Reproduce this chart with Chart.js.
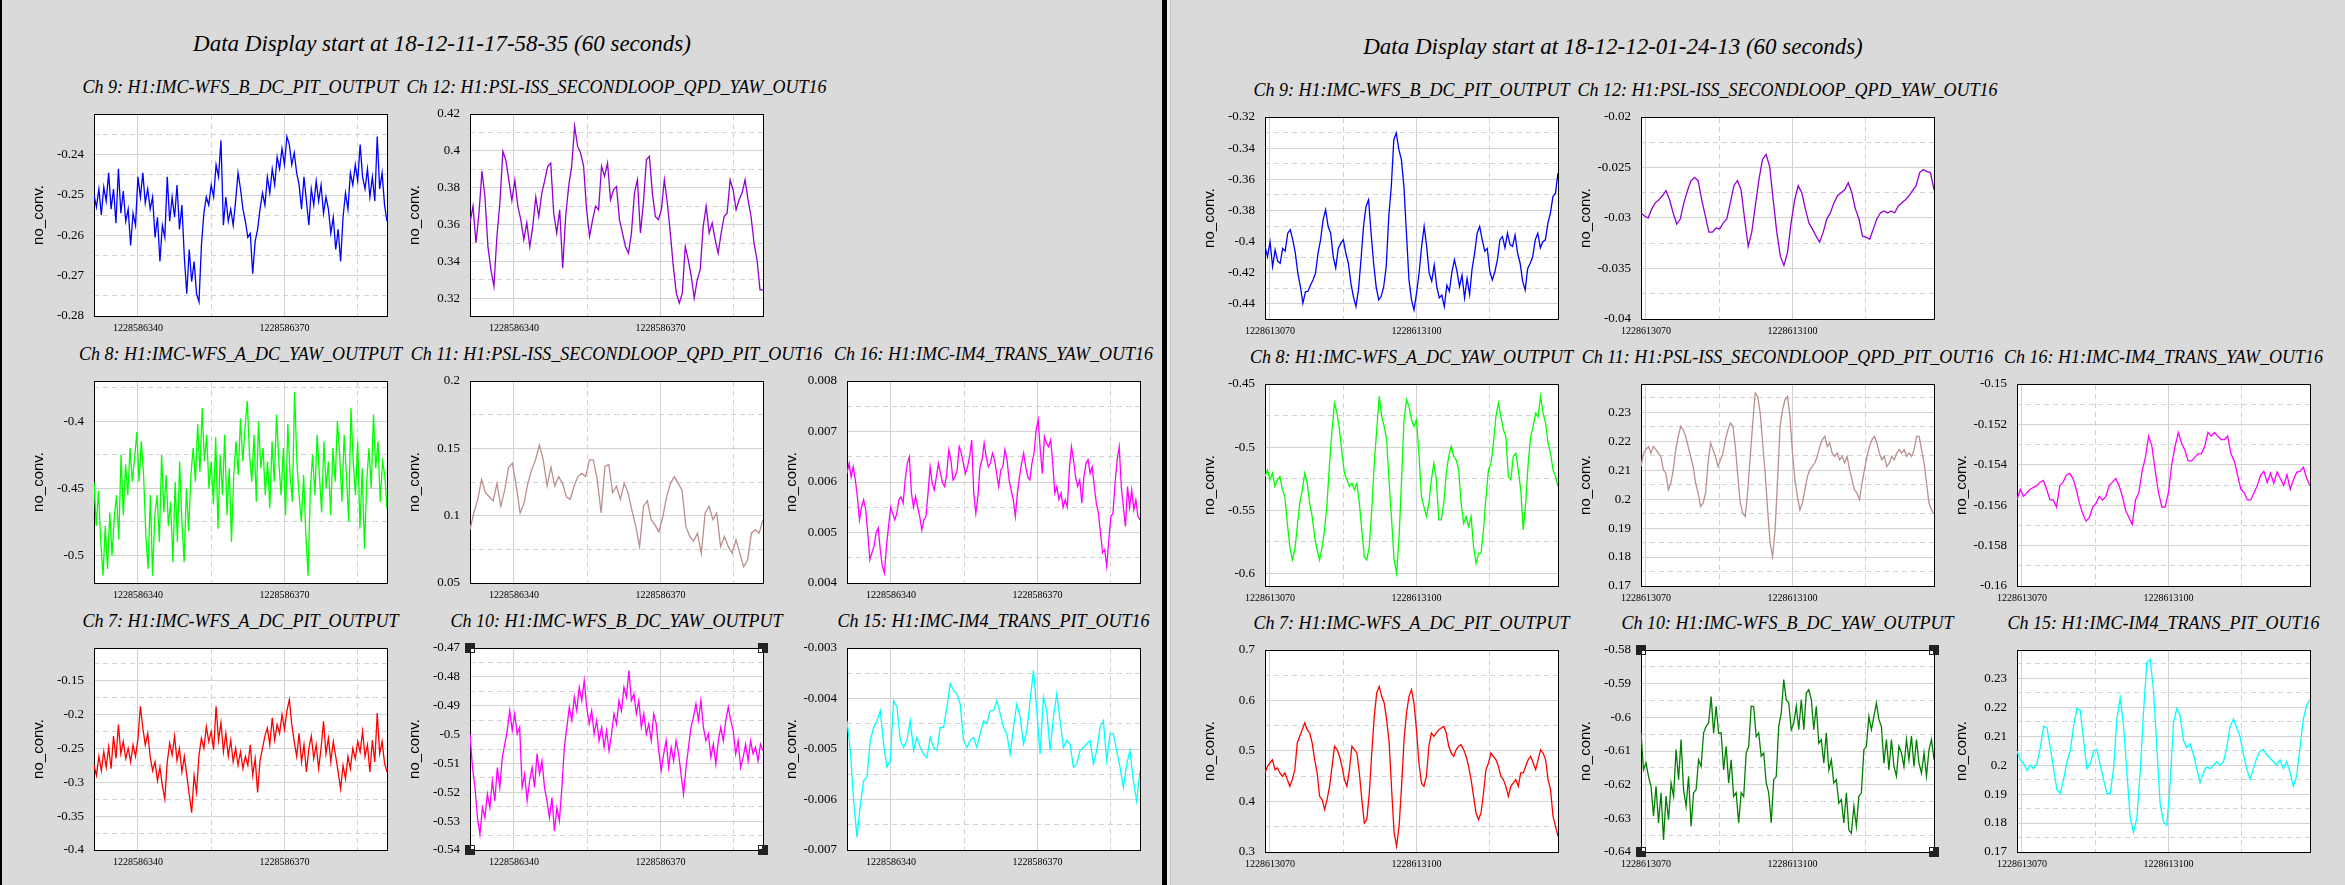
<!DOCTYPE html>
<html>
<head>
<meta charset="utf-8">
<script src="https://cdn.jsdelivr.net/npm/chart.js@4.4.0/dist/chart.umd.min.js"></script>
<style>
  body { margin: 0; width: 2345px; height: 885px; overflow: hidden; position: relative; background: #dadada; font-family: "Liberation Serif", "Times New Roman", serif; }
  canvas { position: absolute; }
  .panel-title { position: absolute; font-style: italic; font-size: 23px; white-space: nowrap; transform: translate(-50%, -50%); color: #000; }
  .plot-title { position: absolute; font-style: italic; font-size: 18px; white-space: nowrap; transform: translate(-50%, -50%); color: #000; }
  .bar { position: absolute; top: 0; height: 885px; }
</style>
</head>
<body>
<div class="bar" style="left:0;width:2px;background:#000"></div>
<div class="bar" style="left:1162px;width:5px;background:#000"></div>
<div class="bar" style="left:1167px;width:3px;background:#eeeeee"></div>
<div class="bar" style="left:1170px;width:1px;background:#c4c4c4"></div>
<script>
// ---- data -------------------------------------------------------------
const leftStart = 1228586331;
const rightStart = 1228613069;
const duration = 60;
const leftTitle = 'Data Display start at 18-12-11-17-58-35 (60 seconds)';
const rightTitle = 'Data Display start at 18-12-12-01-24-13 (60 seconds)';
const leftXTicks = [1228586340, 1228586370];
const rightXTicks = [1228613070, 1228613100];

const leftCh9 = [-0.250,-0.253,-0.2485,-0.255,-0.248,-0.2515,-0.2445,-0.2535,-0.2485,-0.257,
  -0.2435,-0.2545,-0.249,-0.2565,-0.2535,-0.2625,-0.2545,-0.2575,-0.2455,-0.2505,
  -0.2445,-0.252,-0.2485,-0.2535,-0.2505,-0.2605,-0.2555,-0.2665,-0.2575,-0.2605,
  -0.2455,-0.2565,-0.2505,-0.2555,-0.2475,-0.2585,-0.2525,-0.2655,-0.2745,-0.2635,
  -0.2715,-0.2665,-0.2745,-0.2765,-0.2625,-0.2545,-0.2505,-0.2525,-0.2475,-0.2505,
  -0.2425,-0.2455,-0.2365,-0.2575,-0.2505,-0.2565,-0.2535,-0.2575,-0.2515,-0.2445,
  -0.2485,-0.2535,-0.2565,-0.2605,-0.2595,-0.2695,-0.2615,-0.2585,-0.2535,-0.2495,
  -0.2525,-0.2455,-0.2495,-0.2435,-0.2475,-0.2405,-0.2435,-0.2385,-0.2425,-0.2355,
  -0.2375,-0.2425,-0.2395,-0.2445,-0.2475,-0.2535,-0.2455,-0.2515,-0.2575,-0.2485,
  -0.2525,-0.2465,-0.2515,-0.2475,-0.2545,-0.2505,-0.2535,-0.2595,-0.2555,-0.2635,
  -0.2585,-0.2665,-0.2555,-0.2495,-0.2535,-0.2445,-0.2475,-0.2425,-0.2465,-0.2375,
  -0.2455,-0.2485,-0.2435,-0.2505,-0.2455,-0.2515,-0.2355,-0.2485,-0.2445,-0.2525,
  -0.2565];
const leftCh9Ticks = [-0.28, -0.27, -0.26, -0.25, -0.24];

const leftCh12 = [0.361,0.370,0.350,0.366,0.389,0.375,0.348,0.3355,0.3265,0.3535,
  0.3717,0.3997,0.395,0.384,0.373,0.384,0.370,0.3626,0.3518,0.361,
  0.348,0.359,0.375,0.3644,0.377,0.384,0.3916,0.3934,0.366,0.3554,
  0.368,0.3364,0.3644,0.3807,0.3916,0.4133,0.4024,0.3988,0.3916,0.368,
  0.3536,0.3626,0.370,0.368,0.3916,0.3862,0.3934,0.3735,0.3789,0.3807,
  0.3626,0.3554,0.3481,0.3445,0.3554,0.3771,0.3843,0.3554,0.3717,0.3952,
  0.397,0.3771,0.3644,0.3626,0.368,0.3843,0.3717,0.3554,0.3373,0.3228,
  0.3174,0.3228,0.3481,0.3409,0.3319,0.3201,0.330,0.3355,0.359,0.3699,
  0.3554,0.3608,0.3518,0.3445,0.3554,0.3644,0.3662,0.3843,0.3789,0.368,
  0.3735,0.3771,0.3843,0.3735,0.3644,0.350,0.3409,0.3246,0.3246];
const leftCh12Ticks = [0.32, 0.34, 0.36, 0.38, 0.4, 0.42];

const leftCh8 = [-0.445,-0.478,-0.452,-0.49,
  -0.515,-0.478,-0.51,-0.468,-0.50,-0.472,
  -0.455,-0.488,-0.425,-0.47,-0.432,-0.455,-0.42,-0.445,
  -0.428,-0.408,-0.445,-0.415,-0.44,
  -0.485,-0.51,-0.455,-0.515,-0.47,
  -0.455,-0.49,-0.425,-0.468,-0.44,-0.478,
  -0.46,-0.505,-0.445,-0.49,-0.43,-0.475,-0.505,-0.45,-0.482,-0.44,
  -0.42,-0.445,-0.402,-0.438,-0.39,-0.43,-0.41,-0.45,
  -0.43,-0.462,-0.412,-0.48,-0.425,-0.455,-0.41,-0.47,-0.435,-0.49,-0.44,
  -0.415,-0.44,-0.398,-0.43,-0.405,-0.385,-0.425,-0.445,-0.41,-0.46,-0.40,-0.435,-0.42,-0.455,
  -0.43,-0.465,-0.415,-0.445,-0.395,-0.43,-0.455,-0.42,-0.47,-0.402,-0.44,-0.46,-0.378,-0.43,
  -0.455,-0.475,-0.44,-0.485,-0.515,-0.45,
  -0.425,-0.455,-0.41,-0.44,-0.468,-0.415,-0.45,-0.43,-0.47,-0.42,-0.445,-0.40,
  -0.425,-0.46,-0.41,-0.44,-0.475,-0.39,-0.43,-0.455,-0.415,-0.48,-0.435,-0.495,-0.445,
  -0.42,-0.45,-0.395,-0.435,-0.415,-0.46,-0.43,-0.44,-0.465];
const leftCh8Ticks = [-0.5, -0.45, -0.4];

const leftCh11 = [0.0896,0.102,0.112,0.127,0.117,0.114,0.111,0.124,0.107,0.119,
  0.136,0.139,0.122,0.102,0.109,0.124,0.134,0.1415,0.1525,0.1415,
  0.122,0.136,0.122,0.129,0.124,0.114,0.112,0.122,0.129,0.1315,
  0.129,0.1415,0.1415,0.127,0.102,
  0.1365,0.138,0.117,0.122,0.112,0.124,0.117,0.104,0.092,0.077,
  0.107,0.111,0.097,0.093,0.088,0.099,0.114,0.124,0.129,0.124,
  0.119,0.092,0.0846,0.081,0.087,0.072,0.102,0.107,0.097,0.102,
  0.077,0.0846,0.077,0.072,0.082,0.072,0.062,0.067,0.087,0.0896,
  0.087,0.097];
const leftCh11Ticks = [0.05, 0.1, 0.15, 0.2];

const leftCh16 = [0.00617,0.00637,0.0061,0.0063,0.00604,0.00571,0.00525,0.0055,0.00565,0.00545,
  0.00499,0.00446,0.0046,0.00473,0.00499,0.00509,0.00466,0.00433,0.0042,0.00473,
  0.00512,0.0055,0.00538,0.00525,0.00538,0.00565,0.00571,0.00558,0.00604,0.00637,
  0.0065,0.00578,0.0055,0.00571,0.0055,0.00532,0.00505,0.00525,0.00532,0.00578,
  0.0063,0.00598,0.00584,0.0061,0.00637,0.00617,0.00598,0.00591,0.00617,0.00664,
  0.00644,0.00604,0.0061,0.00624,0.0067,0.00657,0.00637,0.00617,0.0063,0.0065,
  0.00683,0.00578,0.00538,0.00571,0.0063,0.00644,0.00677,0.0065,0.0063,0.00637,
  0.00657,0.00644,0.00617,0.00591,0.00624,0.0063,0.00664,0.00644,0.00604,0.00584,
  0.00565,0.00532,0.00578,0.0061,0.00637,0.00657,0.0063,0.0061,0.00604,0.00637,
  0.00657,0.00703,0.00723,0.00664,0.00617,0.0069,0.00677,0.0067,0.00683,0.00637,
  0.00578,0.00591,0.00565,0.00578,0.0055,0.00565,0.0055,0.00624,0.0067,0.00644,
  0.0061,0.00591,0.00604,0.00558,0.0061,0.00637,0.00644,0.00617,0.0063,0.00591,
  0.00558,0.00538,0.00499,0.0046,0.00466,0.00433,0.00486,0.00532,0.00538,0.00598,
  0.00644,0.0067,0.00591,0.0055,0.00512,0.00591,0.0055,0.00584,0.00545,0.00565,
  0.00532,0.00525];
const leftCh16Ticks = [0.004, 0.005, 0.006, 0.007, 0.008];

const leftCh7 = [-0.275,-0.29,-0.262,-0.283,-0.255,-0.278,-0.248,-0.28,-0.232,-0.265,
  -0.215,-0.258,-0.24,-0.265,-0.25,-0.27,-0.245,-0.262,-0.236,-0.188,
  -0.22,-0.245,-0.228,-0.262,-0.283,-0.27,-0.298,-0.278,-0.305,-0.325,
  -0.27,-0.242,-0.26,-0.232,-0.268,-0.25,-0.285,-0.262,-0.29,-0.318,
  -0.345,-0.29,-0.315,-0.26,-0.235,-0.25,-0.218,-0.24,-0.225,-0.252,
  -0.188,-0.238,-0.212,-0.255,-0.228,-0.262,-0.238,-0.27,-0.25,-0.275,
  -0.255,-0.28,-0.262,-0.275,-0.245,-0.29,-0.265,-0.315,-0.268,-0.25,
  -0.232,-0.22,-0.245,-0.205,-0.238,-0.215,-0.228,-0.20,-0.222,-0.195,
  -0.178,-0.215,-0.24,-0.262,-0.228,-0.27,-0.245,-0.285,-0.25,-0.232,
  -0.265,-0.245,-0.28,-0.25,-0.21,-0.258,-0.235,-0.27,-0.24,-0.262,
  -0.285,-0.31,-0.275,-0.295,-0.262,-0.28,-0.25,-0.265,-0.24,-0.255,
  -0.225,-0.262,-0.245,-0.285,-0.238,-0.27,-0.198,-0.258,-0.24,-0.272,
  -0.285];
const leftCh7Ticks = [-0.4, -0.35, -0.3, -0.25, -0.2, -0.15];

const leftCh10 = [-0.4998,-0.5114,-0.5183,-0.5288,-0.5346,-0.5253,-0.5288,-0.5206,-0.5253,-0.516,
  -0.523,-0.5114,-0.5183,-0.5079,-0.5033,-0.4986,-0.4917,-0.4986,-0.4928,-0.4998,
  -0.4975,-0.5183,-0.5137,-0.523,-0.516,-0.5114,-0.5183,-0.5067,-0.5137,-0.5091,
  -0.5183,-0.523,-0.5288,-0.5218,-0.5334,-0.5253,-0.5299,-0.5183,-0.5044,-0.4975,
  -0.4905,-0.4951,-0.487,-0.4917,-0.4836,-0.4882,-0.4813,-0.4905,-0.4963,-0.4917,
  -0.4998,-0.4951,-0.5021,-0.4975,-0.5044,-0.4986,-0.5056,-0.4998,-0.4928,-0.4963,
  -0.4882,-0.4917,-0.4836,-0.487,-0.4778,-0.4882,-0.4859,-0.4928,-0.4882,-0.4975,
  -0.4928,-0.4998,-0.4963,-0.5021,-0.4928,-0.4963,-0.5056,-0.5125,-0.5067,-0.5021,
  -0.5114,-0.5044,-0.5091,-0.5021,-0.5067,-0.5137,-0.5206,-0.5114,-0.5044,-0.4975,
  -0.494,-0.4894,-0.4951,-0.4882,-0.4975,-0.5021,-0.4998,-0.5079,-0.5033,-0.5102,
  -0.5021,-0.4975,-0.5021,-0.4951,-0.4905,-0.4951,-0.4986,-0.5067,-0.5021,-0.5114,
  -0.5079,-0.5033,-0.5091,-0.5021,-0.5067,-0.5044,-0.5091,-0.5033,-0.5056];
const leftCh10Ticks = [-0.54, -0.53, -0.52, -0.51, -0.5, -0.49, -0.48, -0.47];

const leftCh15 = [-0.00444,-0.00503,-0.00603,-0.00675,-0.0061,-0.00563,-0.00556,-0.00483,-0.00457,-0.00444,
  -0.00424,-0.0049,-0.00536,-0.00523,-0.00404,-0.00417,-0.00483,-0.00497,-0.00483,-0.00444,
  -0.00503,-0.00477,-0.00497,-0.0051,-0.00517,-0.00477,-0.00497,-0.00503,-0.00457,-0.00457,
  -0.00417,-0.00371,-0.00384,-0.00391,-0.00411,-0.00483,-0.00497,-0.00483,-0.00477,-0.00497,
  -0.0047,-0.00444,-0.0045,-0.00424,-0.00424,-0.00404,-0.0043,-0.00457,-0.0047,-0.0051,
  -0.00457,-0.00411,-0.00437,-0.0049,-0.00464,-0.00404,-0.00344,-0.00424,-0.0051,-0.00397,
  -0.00424,-0.00503,-0.00437,-0.00391,-0.00444,-0.00497,-0.00483,-0.0049,-0.00536,-0.0053,
  -0.00503,-0.00497,-0.0049,-0.00483,-0.0053,-0.00503,-0.00457,-0.00444,-0.00523,-0.0047,
  -0.0047,-0.00503,-0.00536,-0.00576,-0.0053,-0.00503,-0.00563,-0.00603,-0.00543];
const leftCh15Ticks = [-0.007, -0.006, -0.005, -0.004, -0.003];

const rightCh9 = [-0.4031,-0.4096,-0.4001,-0.416,-0.4053,-0.4126,-0.4139,-0.4044,-0.4061,-0.3946,
  -0.3924,-0.3989,-0.4074,-0.4203,-0.4289,-0.4396,-0.4323,-0.4319,-0.428,-0.4246,
  -0.4203,-0.4074,-0.3989,-0.386,-0.3796,-0.3903,-0.3946,-0.4096,-0.4169,-0.4044,
  -0.401,-0.3989,-0.4074,-0.4139,-0.4267,-0.4353,-0.4417,-0.431,-0.4117,-0.3903,
  -0.3774,-0.3731,-0.3946,-0.4139,-0.4289,-0.4374,-0.4353,-0.4289,-0.416,-0.3839,
  -0.3646,-0.3346,-0.3303,-0.341,-0.3474,-0.3646,-0.3946,-0.4246,-0.4374,-0.4439,
  -0.4331,-0.4203,-0.4031,-0.3903,-0.4031,-0.4203,-0.4254,-0.4151,-0.4289,-0.4361,
  -0.4344,-0.4417,-0.428,-0.4319,-0.4194,-0.4117,-0.419,-0.4289,-0.4216,-0.4361,
  -0.4237,-0.434,-0.4173,-0.4074,-0.3946,-0.3903,-0.3989,-0.4061,-0.4044,-0.419,
  -0.4246,-0.4194,-0.4117,-0.3989,-0.3967,-0.404,-0.3946,-0.4019,-0.4031,-0.3959,
  -0.4074,-0.4139,-0.4254,-0.431,-0.4173,-0.4139,-0.4096,-0.3989,-0.3946,-0.404,
  -0.4001,-0.3989,-0.3881,-0.3817,-0.371,-0.3689,-0.356];
const rightCh9Ticks = [-0.44, -0.42, -0.4, -0.38, -0.36, -0.34, -0.32];

const rightCh12 = [-0.0295,-0.0298,-0.03,-0.0291,-0.0285,-0.0282,-0.0278,-0.0273,-0.0282,-0.0295,
  -0.0306,-0.0301,-0.0285,-0.0273,-0.0263,-0.026,-0.0263,-0.0282,-0.0298,-0.0314,
  -0.0314,-0.031,-0.0311,-0.0305,-0.0301,-0.0285,-0.0268,-0.0263,-0.0272,-0.0301,
  -0.0328,-0.0314,-0.0288,-0.0262,-0.0242,-0.0237,-0.0249,-0.0282,-0.0314,-0.0338,
  -0.0347,-0.0334,-0.0305,-0.0282,-0.0268,-0.0275,-0.0291,-0.0305,-0.0311,-0.0318,
  -0.0324,-0.0314,-0.0301,-0.0295,-0.0285,-0.0278,-0.0275,-0.0272,-0.0265,-0.0275,
  -0.0291,-0.0301,-0.0318,-0.0319,-0.0321,-0.0311,-0.0301,-0.0295,-0.0293,-0.0295,
  -0.0293,-0.0295,-0.0288,-0.0285,-0.0282,-0.0278,-0.0273,-0.0268,-0.0255,-0.0252,
  -0.0254,-0.0255,-0.0272];
const rightCh12Ticks = [-0.04, -0.035, -0.03, -0.025, -0.02];

const rightCh8 = [-0.5233,-0.518,-0.5259,-0.5207,-0.5312,-0.5259,-0.5233,-0.5339,-0.5392,-0.5603,
  -0.5789,-0.5894,-0.5815,-0.563,-0.5445,-0.5339,-0.5207,-0.5286,-0.5445,-0.555,
  -0.5709,-0.5815,-0.5894,-0.5789,-0.5656,-0.5445,-0.5127,-0.4863,-0.4651,-0.473,
  -0.4863,-0.5048,-0.5207,-0.5259,-0.5312,-0.5286,-0.5339,-0.5286,-0.5445,-0.5656,
  -0.5868,-0.5894,-0.5789,-0.5498,-0.5127,-0.4863,-0.4598,-0.4757,-0.4836,-0.4942,
  -0.5286,-0.5577,-0.5894,-0.6,-0.5709,-0.5259,-0.4783,-0.4624,-0.4677,-0.4783,
  -0.4836,-0.4783,-0.5048,-0.5392,-0.5471,-0.555,-0.5445,-0.5259,-0.5127,-0.5259,
  -0.5577,-0.5577,-0.5445,-0.5207,-0.5074,-0.4995,-0.5074,-0.5101,-0.518,-0.5445,
  -0.5603,-0.555,-0.563,-0.555,-0.5789,-0.5921,-0.5842,-0.5842,-0.5656,-0.5392,
  -0.518,-0.5127,-0.4968,-0.4757,-0.4651,-0.4757,-0.4863,-0.4915,-0.5233,-0.5259,
  -0.5074,-0.5048,-0.518,-0.5339,-0.5656,-0.5445,-0.5127,-0.4915,-0.4836,-0.473,
  -0.4757,-0.4598,-0.473,-0.481,-0.4968,-0.5048,-0.518,-0.5233,-0.5312];
const rightCh8Ticks = [-0.6, -0.55, -0.5, -0.45];

const rightCh11 = [0.2113,0.2159,0.2171,0.2182,0.2159,0.2182,0.2171,0.2159,0.2148,0.2102,
  0.209,0.2032,0.2055,0.2102,0.2171,0.2217,0.2252,0.224,0.2217,0.2182,
  0.2148,0.2113,0.2055,0.2021,0.1975,0.1986,0.2021,0.2125,0.2194,0.2171,
  0.2148,0.2113,0.2136,0.2159,0.2205,0.224,0.2263,0.2252,0.2182,0.2078,
  0.1986,0.1951,0.194,0.2032,0.2148,0.2263,0.2367,0.2355,0.2298,0.2194,
  0.209,0.1963,0.1848,0.1801,0.1894,0.2067,0.2252,0.2309,0.2344,0.2355,
  0.2286,0.2159,0.2067,0.2009,0.1963,0.1986,0.2032,0.2078,0.2102,0.2113,
  0.2125,0.2148,0.2182,0.2205,0.2217,0.2182,0.2194,0.2159,0.2148,0.2159,
  0.2136,0.2148,0.2125,0.2148,0.2102,0.2067,0.2032,0.2021,0.1998,0.2055,
  0.2102,0.2148,0.2182,0.2205,0.2217,0.2194,0.2159,0.2136,0.2148,0.2113,
  0.2125,0.2148,0.2136,0.2159,0.2171,0.2159,0.2171,0.2148,0.2159,0.2148,
  0.2171,0.2217,0.2217,0.2171,0.2125,0.2055,0.1986,0.1963,0.1951];
const rightCh11Ticks = [0.17, 0.18, 0.19, 0.2, 0.21, 0.22, 0.23];

const rightCh16 = [-0.15574,-0.15521,-0.15556,-0.15538,-0.15521,-0.15512,-0.15503,-0.15486,-0.15477,-0.15521,
  -0.15574,-0.15574,-0.15609,-0.15503,-0.15486,-0.15451,-0.15442,-0.15468,-0.15521,-0.15591,
  -0.15644,-0.15679,-0.15661,-0.15609,-0.15591,-0.15556,-0.15574,-0.15556,-0.15503,-0.15486,
  -0.15468,-0.15503,-0.15556,-0.15626,-0.15661,-0.15696,-0.15574,-0.15538,-0.15433,-0.15363,
  -0.15258,-0.1531,-0.15433,-0.15538,-0.15609,-0.15609,-0.15538,-0.15398,-0.1531,-0.1524,
  -0.15293,-0.15328,-0.15381,-0.15381,-0.15363,-0.15346,-0.15346,-0.1531,-0.1524,-0.15258,
  -0.1524,-0.15258,-0.15275,-0.15275,-0.15258,-0.15346,-0.15381,-0.15451,-0.15521,-0.15538,
  -0.15574,-0.15574,-0.15538,-0.15503,-0.15451,-0.15432,-0.15488,-0.15441,-0.15492,-0.15436,
  -0.15468,-0.15502,-0.15448,-0.15521,-0.15473,-0.15436,-0.15433,-0.15412,-0.15468,-0.15503];
const rightCh16Ticks = [-0.16, -0.158, -0.156, -0.154, -0.152, -0.15];

const rightCh7 = [0.4565,0.4697,0.4763,0.4829,0.4631,0.4664,0.4565,0.4499,0.4565,0.4433,
  0.43,0.4433,0.4631,0.5159,0.5291,0.5423,0.5555,0.5423,0.5357,0.5159,
  0.4829,0.4565,0.4103,0.4037,0.3839,0.4037,0.43,0.4697,0.5093,0.5027,
  0.4895,0.4697,0.4433,0.43,0.4631,0.5093,0.5027,0.4961,0.4565,0.4037,
  0.3575,0.3641,0.4169,0.4961,0.5687,0.6149,0.628,0.6083,0.595,0.5621,
  0.5159,0.4235,0.3377,0.3113,0.3509,0.43,0.5225,0.5753,0.6083,0.6215,
  0.595,0.5423,0.4763,0.4367,0.43,0.4499,0.5093,0.5357,0.5291,0.5357,
  0.5423,0.5456,0.5489,0.5357,0.5093,0.4961,0.4895,0.5027,0.5093,0.5126,
  0.5027,0.4895,0.4697,0.4433,0.4103,0.3773,0.3641,0.3773,0.4169,0.4631,
  0.4763,0.4961,0.4895,0.4829,0.4697,0.4499,0.4433,0.43,0.4103,0.43,
  0.4367,0.4433,0.43,0.4565,0.4565,0.4697,0.4829,0.4895,0.4763,0.4631,
  0.4829,0.5027,0.4961,0.4829,0.4433,0.4235,0.3707,0.3509,0.331];
const rightCh7Ticks = [0.3, 0.4, 0.5, 0.6, 0.7];

const rightCh10 = [-0.6047,-0.6156,-0.6135,-0.6176,-0.6205,-0.6294,-0.6205,-0.6314,-0.6224,-0.6364,
  -0.6234,-0.6304,-0.6195,-0.6235,-0.6096,-0.6185,-0.6066,-0.6215,-0.6264,-0.6175,
  -0.6324,-0.6224,-0.6215,-0.6126,-0.6146,-0.6046,-0.6027,-0.6017,-0.5938,-0.6047,
  -0.5967,-0.6047,-0.6046,-0.6156,-0.6086,-0.6195,-0.6126,-0.6235,-0.6224,-0.6314,
  -0.6224,-0.6235,-0.6106,-0.6086,-0.5967,-0.5968,-0.6057,-0.6046,-0.6116,-0.6106,
  -0.6195,-0.6224,-0.6314,-0.6185,-0.6176,-0.6027,-0.5987,-0.5888,-0.5948,-0.5957,
  -0.6037,-0.6017,-0.5967,-0.6037,-0.5947,-0.6037,-0.5928,-0.5918,-0.5947,-0.6037,
  -0.5967,-0.6077,-0.6066,-0.6136,-0.6046,-0.6156,-0.6126,-0.6195,-0.6185,-0.6255,
  -0.6244,-0.6314,-0.6224,-0.6334,-0.6344,-0.6264,-0.6324,-0.6234,-0.6225,-0.6096,
  -0.6086,-0.5997,-0.6037,-0.5997,-0.5958,-0.6007,-0.6027,-0.6136,-0.6066,-0.6156,
  -0.6066,-0.6146,-0.6175,-0.6086,-0.6106,-0.6146,-0.6066,-0.6126,-0.6056,-0.6146,
  -0.6066,-0.6136,-0.6166,-0.6106,-0.6175,-0.6096,-0.6066,-0.6126];
const rightCh10Ticks = [-0.64, -0.63, -0.62, -0.61, -0.6, -0.59, -0.58];

const rightCh15 = [0.2049,0.2018,0.2006,0.1982,0.2,0.1988,0.2006,0.2061,0.2135,0.2129,
  0.2061,0.1988,0.1914,0.1902,0.1951,0.2012,0.2049,0.2135,0.2196,0.219,
  0.2086,0.1988,0.2006,0.2049,0.2055,0.2,0.1951,0.1902,0.1902,0.1988,
  0.2159,0.2233,0.2135,0.1976,0.1817,0.1768,0.1817,0.1976,0.2184,0.2355,
  0.2365,0.2257,0.2061,0.1865,0.1804,0.1792,0.1939,0.2147,0.2196,0.2171,
  0.2086,0.2061,0.2074,0.2037,0.1988,0.1939,0.1976,0.1994,0.1988,0.2,
  0.2012,0.2,0.2012,0.2061,0.2135,0.2159,0.2129,0.2098,0.2037,0.1988,
  0.1951,0.1988,0.2025,0.2049,0.2055,0.2037,0.2025,0.2012,0.2,0.2018,
  0.1988,0.2012,0.1976,0.1927,0.1963,0.2061,0.2159,0.2208,0.2227];
const rightCh15Ticks = [0.17, 0.18, 0.19, 0.2, 0.21, 0.22, 0.23];

// ---- layout -----------------------------------------------------------
const SERIF = '"Liberation Serif", "Times New Roman", serif';
const SANS = '"Liberation Sans", Arial, sans-serif';
const GRID = '#d2d2d2';
const PAD_L = 64, PAD_R = 8, PAD_T = 10, PAD_B = 24;
const PLOT_W = 293, PLOT_H = 202;
const panels = [
  { start: leftStart, xTicks: leftXTicks, title: leftTitle, cols: [94, 470, 847], rows: [114, 381, 648], titleX: 442, titleY: 44 },
  { start: rightStart, xTicks: rightXTicks, title: rightTitle, cols: [1265, 1641, 2017], rows: [117, 384, 650], titleX: 1613, titleY: 47 }
];

const plots = [
  { panel: 0, row: 0, col: 0, title: 'Ch 9: H1:IMC-WFS_B_DC_PIT_OUTPUT', color: '#0000ff', values: leftCh9, ticks: leftCh9Ticks, range: [-0.28, -0.2299] },
  { panel: 0, row: 0, col: 1, title: 'Ch 12: H1:PSL-ISS_SECONDLOOP_QPD_YAW_OUT16', color: '#9400d3', values: leftCh12, ticks: leftCh12Ticks, range: [0.3104, 0.42] },
  { panel: 0, row: 1, col: 0, title: 'Ch 8: H1:IMC-WFS_A_DC_YAW_OUTPUT', color: '#00ff00', values: leftCh8, ticks: leftCh8Ticks, range: [-0.5205, -0.37] },
  { panel: 0, row: 1, col: 1, title: 'Ch 11: H1:PSL-ISS_SECONDLOOP_QPD_PIT_OUT16', color: '#bc8f8f', values: leftCh11, ticks: leftCh11Ticks, range: [0.05, 0.2] },
  { panel: 0, row: 1, col: 2, title: 'Ch 16: H1:IMC-IM4_TRANS_YAW_OUT16', color: '#ff00ff', values: leftCh16, ticks: leftCh16Ticks, range: [0.004, 0.008] },
  { panel: 0, row: 2, col: 0, title: 'Ch 7: H1:IMC-WFS_A_DC_PIT_OUTPUT', color: '#ff0000', values: leftCh7, ticks: leftCh7Ticks, range: [-0.4, -0.102] },
  { panel: 0, row: 2, col: 1, title: 'Ch 10: H1:IMC-WFS_B_DC_YAW_OUTPUT', color: '#ff00ff', values: leftCh10, ticks: leftCh10Ticks, range: [-0.54, -0.47], handles: true },
  { panel: 0, row: 2, col: 2, title: 'Ch 15: H1:IMC-IM4_TRANS_PIT_OUT16', color: '#00ffff', values: leftCh15, ticks: leftCh15Ticks, range: [-0.007, -0.003] },
  { panel: 1, row: 0, col: 0, title: 'Ch 9: H1:IMC-WFS_B_DC_PIT_OUTPUT', color: '#0000ff', values: rightCh9, ticks: rightCh9Ticks, range: [-0.4497, -0.32] },
  { panel: 1, row: 0, col: 1, title: 'Ch 12: H1:PSL-ISS_SECONDLOOP_QPD_YAW_OUT16', color: '#9400d3', values: rightCh12, ticks: rightCh12Ticks, range: [-0.04, -0.02] },
  { panel: 1, row: 1, col: 0, title: 'Ch 8: H1:IMC-WFS_A_DC_YAW_OUTPUT', color: '#00ff00', values: rightCh8, ticks: rightCh8Ticks, range: [-0.61, -0.45] },
  { panel: 1, row: 1, col: 1, title: 'Ch 11: H1:PSL-ISS_SECONDLOOP_QPD_PIT_OUT16', color: '#bc8f8f', values: rightCh11, ticks: rightCh11Ticks, range: [0.17, 0.2398] },
  { panel: 1, row: 1, col: 2, title: 'Ch 16: H1:IMC-IM4_TRANS_YAW_OUT16', color: '#ff00ff', values: rightCh16, ticks: rightCh16Ticks, range: [-0.16, -0.15] },
  { panel: 1, row: 2, col: 0, title: 'Ch 7: H1:IMC-WFS_A_DC_PIT_OUTPUT', color: '#ff0000', values: rightCh7, ticks: rightCh7Ticks, range: [0.3, 0.7] },
  { panel: 1, row: 2, col: 1, title: 'Ch 10: H1:IMC-WFS_B_DC_YAW_OUTPUT', color: '#008000', values: rightCh10, ticks: rightCh10Ticks, range: [-0.64, -0.58], handles: true },
  { panel: 1, row: 2, col: 2, title: 'Ch 15: H1:IMC-IM4_TRANS_PIT_OUT16', color: '#00ffff', values: rightCh15, ticks: rightCh15Ticks, range: [0.17, 0.2398] }
];

// white plot area, plus the little selection handles on the Ch 10 plots
const plotFrame = {
  id: 'plotFrame',
  beforeDraw(chart) {
    const { ctx, chartArea: a } = chart;
    ctx.save();
    ctx.fillStyle = '#fff';
    ctx.fillRect(a.left, a.top, a.right - a.left, a.bottom - a.top);
    ctx.restore();
  },
  afterDraw(chart, args, opts) {
    if (!opts.handles) return;
    const { ctx, chartArea: a } = chart;
    ctx.save();
    [[a.left, a.top, 1, 1], [a.right, a.top, -1, 1], [a.left, a.bottom, 1, -1], [a.right, a.bottom, -1, -1]].forEach(([x, y, sx, sy]) => {
      ctx.fillStyle = '#222';
      ctx.fillRect(x - 5, y - 5, 10, 10);
      ctx.fillStyle = '#fff';
      ctx.fillRect(sx > 0 ? x + 1 : x - 4, sy > 0 ? y + 1 : y - 4, 3, 3);
    });
    ctx.restore();
  }
};

function zeroPad(s) {
  s.paddingLeft = 0; s.paddingRight = 0; s.paddingTop = 0; s.paddingBottom = 0;
}

function inRange(list, lo, hi) {
  return list.filter(v => v >= lo - 1e-9 && v <= hi + 1e-9);
}

function halfSteps(list, lo, hi) {
  const step = list[1] - list[0];
  const out = list.map(v => v - step / 2).concat([list[list.length - 1] + step / 2]);
  return out.filter(v => v > lo + 1e-9 && v < hi - 1e-9);
}

function addText(cls, text, x, y) {
  const d = document.createElement('div');
  d.className = cls;
  d.textContent = text;
  d.style.left = x + 'px';
  d.style.top = y + 'px';
  document.body.appendChild(d);
}

panels.forEach(g => addText('panel-title', g.title, g.titleX, g.titleY));

plots.forEach(p => {
  const g = panels[p.panel];
  const left = g.cols[p.col], top = g.rows[p.row];
  addText('plot-title', p.title, left + PLOT_W / 2, top - 27);

  const canvas = document.createElement('canvas');
  canvas.width = PAD_L + PLOT_W + PAD_R;
  canvas.height = PAD_T + PLOT_H + PAD_B;
  canvas.style.left = (left - PAD_L) + 'px';
  canvas.style.top = (top - PAD_T) + 'px';
  document.body.appendChild(canvas);

  const n = p.values.length;
  const points = p.values.map((v, i) => ({ x: g.start + i * duration / (n - 1), y: v }));
  const [lo, hi] = p.range;
  const xMin = g.start, xMax = g.start + duration;
  const yMajor = inRange(p.ticks, lo, hi);
  const yMinor = halfSteps(p.ticks, lo, hi);
  const xMajor = inRange(g.xTicks, xMin, xMax);
  const xMinor = halfSteps(g.xTicks, xMin, xMax);
  const frame = { display: true, color: '#000', width: 1 };

  new Chart(canvas, {
    type: 'line',
    data: { datasets: [{ data: points, borderColor: p.color, borderWidth: 1.3, pointRadius: 0, fill: false, tension: 0 }] },
    options: {
      responsive: false,
      animation: false,
      events: [],
      layout: { padding: { left: 0, right: PAD_R, top: PAD_T, bottom: 0 }, autoPadding: false },
      plugins: { legend: { display: false }, tooltip: { enabled: false }, plotFrame: { handles: !!p.handles } },
      scales: {
        x: {
          type: 'linear', position: 'bottom', min: xMin, max: xMax,
          afterBuildTicks: s => { s.ticks = xMajor.map(v => ({ value: v })); },
          afterFit: s => { s.height = PAD_B; zeroPad(s); },
          grid: { color: GRID, lineWidth: 1, drawTicks: false },
          border: frame,
          ticks: { autoSkip: false, maxRotation: 0, padding: 6, color: '#000', font: { family: SERIF, size: 10 }, callback: v => String(v) }
        },
        xMinor: {
          type: 'linear', axis: 'x', position: 'top', min: xMin, max: xMax,
          afterBuildTicks: s => { s.ticks = xMinor.map(v => ({ value: v })); },
          afterFit: s => { s.height = 0; zeroPad(s); },
          grid: { color: GRID, lineWidth: 1, drawTicks: false },
          border: { display: true, color: '#000', width: 1, dash: [5, 4] },
          ticks: { display: false }
        },
        y: {
          type: 'linear', position: 'left', min: lo, max: hi,
          afterBuildTicks: s => { s.ticks = yMajor.map(v => ({ value: v })); },
          afterFit: s => { s.width = PAD_L; zeroPad(s); },
          grid: { color: GRID, lineWidth: 1, drawTicks: false },
          border: frame,
          ticks: { autoSkip: false, padding: 10, color: '#000', font: { family: SERIF, size: 13 }, callback: v => String(v) },
          title: { display: true, text: 'no_conv.', color: '#000', font: { family: SANS, size: 15 }, padding: 0 }
        },
        yMinor: {
          type: 'linear', axis: 'y', position: 'right', min: lo, max: hi,
          afterBuildTicks: s => { s.ticks = yMinor.map(v => ({ value: v })); },
          afterFit: s => { s.width = 0; zeroPad(s); },
          grid: { color: GRID, lineWidth: 1, drawTicks: false },
          border: { display: true, color: '#000', width: 1, dash: [5, 4] },
          ticks: { display: false }
        }
      }
    },
    plugins: [plotFrame]
  });
});
</script>
</body>
</html>
